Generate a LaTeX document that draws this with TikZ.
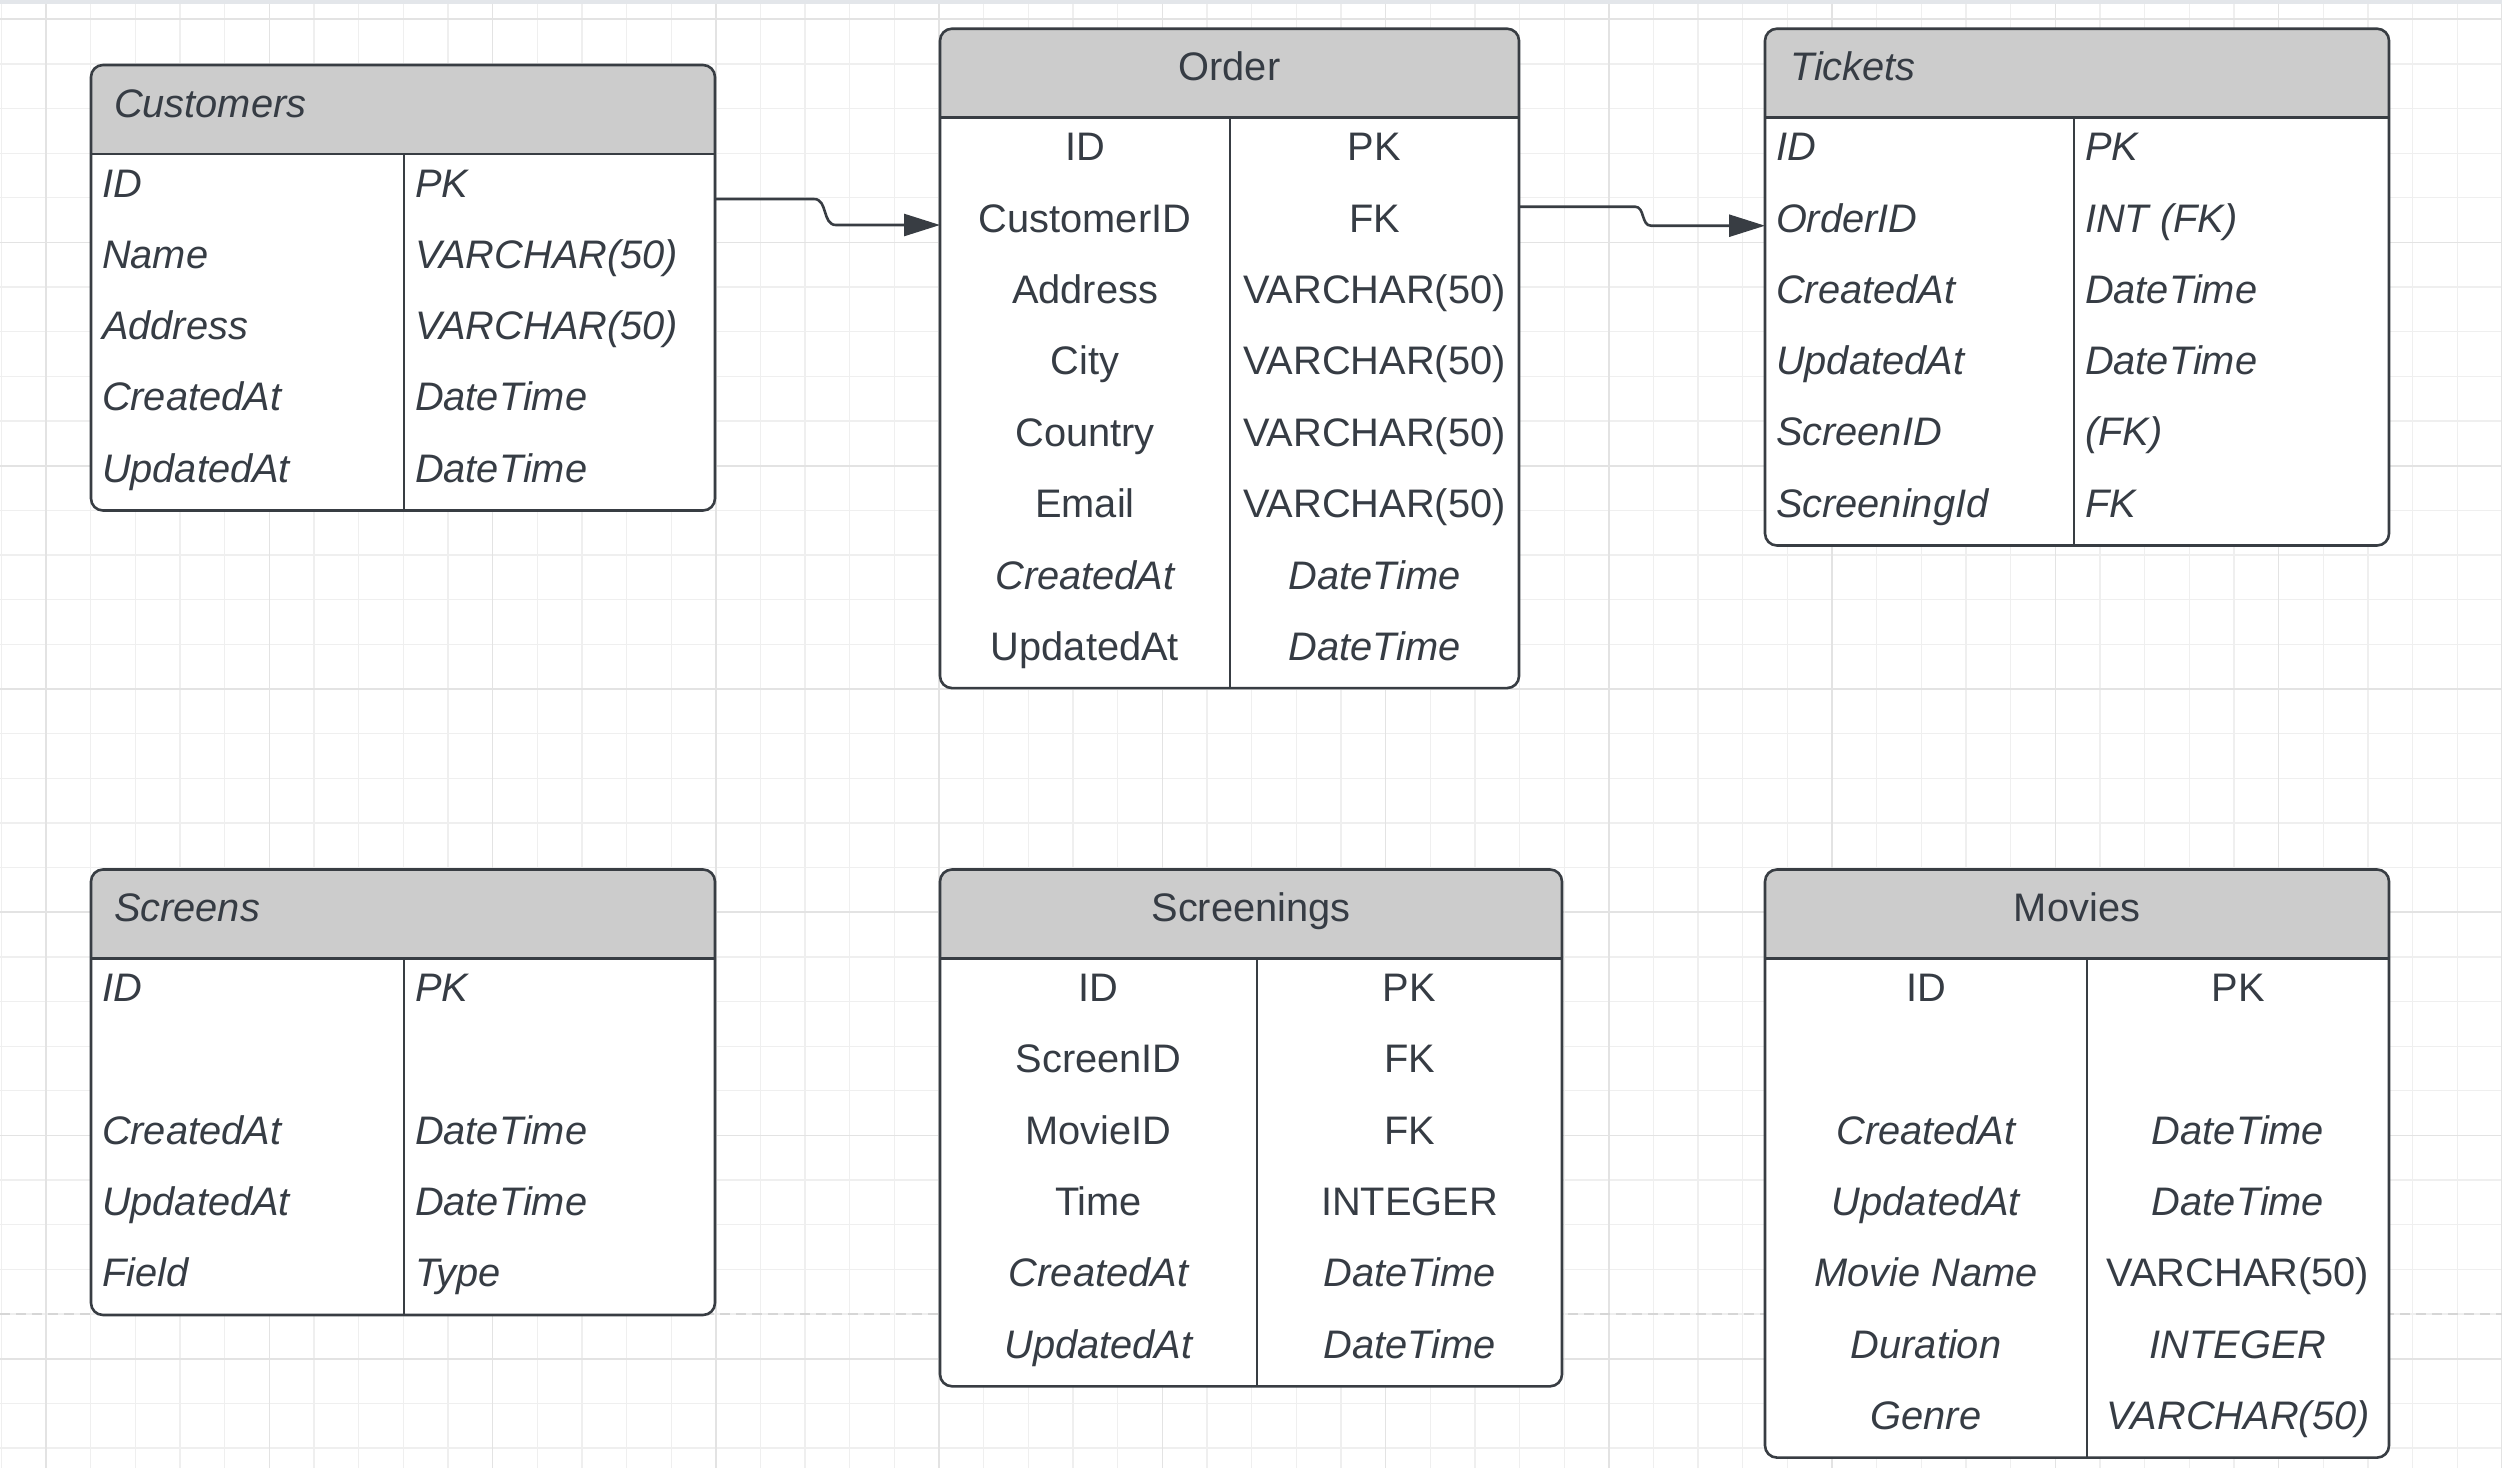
\documentclass[tikz,border=0pt]{standalone}
\usepackage{fontspec}
\setmainfont{Liberation Sans}
\usetikzlibrary{arrows.meta,calc}
\definecolor{linec}{HTML}{383D43}
\definecolor{txtc}{HTML}{363C44}
\definecolor{hdrfill}{HTML}{CCCCCC}
\definecolor{gridminor}{HTML}{EFEFEF}
\definecolor{gridmajor}{HTML}{E3E3E3}
\definecolor{dashc}{HTML}{D6D6D6}
\definecolor{topband}{HTML}{E3E6EA}
\tikzset{
  erline/.style={draw=linec, line width=2.6pt},
  frame/.style={rectangle, draw=linec, line width=2.6pt, rounded corners=12pt, inner sep=0pt, outer sep=0pt},
  cell/.style={text=txtc, inner sep=0pt, outer sep=0pt, font=\fontsize{39.8}{46}\selectfont},
  conn/.style={draw=linec, line width=2.6pt, -{Triangle[length=36pt,width=22pt]}},
  minorgrid/.style={draw=gridminor, line width=1.3pt},
  majorgrid/.style={draw=gridmajor, line width=1.6pt},
  dashline/.style={draw=dashc, line width=2.5pt, dash pattern=on 10pt off 6pt},
}
% #1 name, #2 left x, #3 top y, #4 width, #5 divider x, #6 number of rows
\newcommand\ertable[6]{%
  \pgfmathsetmacro\erB{#3+89+71.3*#6}%
  \pgfmathsetmacro\erHB{#3+89}%
  \pgfmathsetmacro\erR{#2+#4}%
  \pgfmathsetmacro\erH{89+71.3*#6}%
  \begin{scope}
    \clip[rounded corners=12pt] (#2,#3) rectangle (\erR,\erB);
    \fill[hdrfill] (#2,#3) rectangle (\erR,\erHB);
    \fill[white] (#2,\erHB) rectangle (\erR,\erB);
  \end{scope}
  \draw[erline] (#2,\erHB) -- (\erR,\erHB);
  \draw[erline] (#5,\erHB) -- (#5,\erB);
  \node[frame, minimum width=#4pt, minimum height=\erH pt, anchor=north west] (#1) at (#2,#3) {};
}
\begin{document}
\begin{tikzpicture}[x=1pt,y=-1pt]
\useasboundingbox (0,0) rectangle (2502,1468);
\fill[white] (0,0) rectangle (2502,1468);
% grid
\foreach \k in {0,...,56} {
  \pgfmathsetmacro\xx{1.4+44.65*\k}
  \draw[minorgrid] (\xx,0) -- (\xx,1468);
}
\foreach \k in {0,...,32} {
  \pgfmathsetmacro\yy{19.2+44.65*\k}
  \draw[minorgrid] (0,\yy) -- (2502,\yy);
}
\foreach \k in {1,6,...,56} {
  \pgfmathsetmacro\xx{1.4+44.65*\k}
  \draw[majorgrid] (\xx,0) -- (\xx,1468);
}
\foreach \k in {0,5,...,30} {
  \pgfmathsetmacro\yy{19.2+44.65*\k}
  \draw[majorgrid] (0,\yy) -- (2502,\yy);
}
\fill[topband] (0,0) rectangle (2502,4);
\draw[dashline] (0,1314) -- (2502,1314);

% tables
\ertable{cust}{91}{65}{624}{404}{5}
\ertable{order}{940}{28.7}{579}{1230}{8}
\ertable{tick}{1765}{28.7}{624}{2074}{6}
\ertable{scrn}{91}{869.5}{624}{404}{5}
\ertable{scng}{940}{869.5}{622}{1257}{6}
\ertable{movie}{1765}{869.5}{624}{2087}{7}

% headers
\node[cell, anchor=base west] (cust-h) at (114,117) {\itshape Customers};
\node[cell, anchor=base] (order-h) at (1229.5,80.7) {Order};
\node[cell, anchor=base west] (tick-h) at (1790,80.7) {\itshape Tickets};
\node[cell, anchor=base west] (scrn-h) at (114,921.5) {\itshape Screens};
\node[cell, anchor=base] (scng-h) at (1251,921.5) {Screenings};
\node[cell, anchor=base] (movie-h) at (2077,921.5) {Movies};

% Customers
\foreach \i/\a/\b in {1/ID/PK,2/Name/VARCHAR(50),3/Address/VARCHAR(50),4/CreatedAt/DateTime,5/UpdatedAt/DateTime}{
  \node[cell, anchor=base west] (cust-l\i) at (102,{197+71.3*(\i-1)}) {\itshape\a};
  \node[cell, anchor=base west] (cust-r\i) at (415,{197+71.3*(\i-1)}) {\itshape\b};
}
% Order
\foreach \i/\a/\b in {1/ID/PK,2/CustomerID/FK,3/Address/VARCHAR(50),4/City/VARCHAR(50),5/Country/VARCHAR(50),6/Email/VARCHAR(50),7/{\itshape CreatedAt}/{\itshape DateTime},8/UpdatedAt/{\itshape DateTime}}{
  \node[cell, anchor=base] (order-l\i) at (1085,{160.7+71.4*(\i-1)}) {\a};
  \node[cell, anchor=base] (order-r\i) at (1374.5,{160.7+71.4*(\i-1)}) {\b};
}
% Tickets
\foreach \i/\a/\b in {1/ID/PK,2/OrderID/INT (FK),3/CreatedAt/DateTime,4/UpdatedAt/DateTime,5/ScreenID/(FK),6/ScreeningId/FK}{
  \node[cell, anchor=base west] (tick-l\i) at (1776,{160.7+71.3*(\i-1)}) {\itshape\a};
  \node[cell, anchor=base west] (tick-r\i) at (2085,{160.7+71.3*(\i-1)}) {\itshape\b};
}
% Screens
\foreach \i/\a/\b in {1/ID/PK,3/CreatedAt/DateTime,4/UpdatedAt/DateTime,5/Field/Type}{
  \node[cell, anchor=base west] (scrn-l\i) at (102,{1001.5+71.3*(\i-1)}) {\itshape\a};
  \node[cell, anchor=base west] (scrn-r\i) at (415,{1001.5+71.3*(\i-1)}) {\itshape\b};
}
% Screenings
\foreach \i/\a/\b in {1/ID/PK,2/ScreenID/FK,3/MovieID/FK,4/Time/INTEGER,5/{\itshape CreatedAt}/{\itshape DateTime},6/{\itshape UpdatedAt}/{\itshape DateTime}}{
  \node[cell, anchor=base] (scng-l\i) at (1098.5,{1001.5+71.3*(\i-1)}) {\a};
  \node[cell, anchor=base] (scng-r\i) at (1409.5,{1001.5+71.3*(\i-1)}) {\b};
}
% Movies
\foreach \i/\a/\b in {1/ID/PK,3/{\itshape CreatedAt}/{\itshape DateTime},4/{\itshape UpdatedAt}/{\itshape DateTime},5/{\itshape Movie Name}/VARCHAR(50),6/{\itshape Duration}/{\itshape INTEGER},7/{\itshape Genre}/{\itshape VARCHAR(50)}}{
  \node[cell, anchor=base] (movie-l\i) at (1926,{1001.5+71.3*(\i-1)}) {\a};
  \node[cell, anchor=base] (movie-r\i) at (2238,{1001.5+71.3*(\i-1)}) {\b};
}

% connectors
\draw[conn] ($(cust.north east)+(0,134)$) -- ++(99,0)
  .. controls +(14,0) and +(-14,0) .. ++(22,26) coordinate (c1m)
  -- (c1m -| order.west);
\draw[conn] ($(order.north east)+(0,178)$) -- ++(116,0)
  .. controls +(10,0) and +(-10,0) .. ++(16,19) coordinate (c2m)
  -- (c2m -| tick.west);
\end{tikzpicture}
\end{document}
